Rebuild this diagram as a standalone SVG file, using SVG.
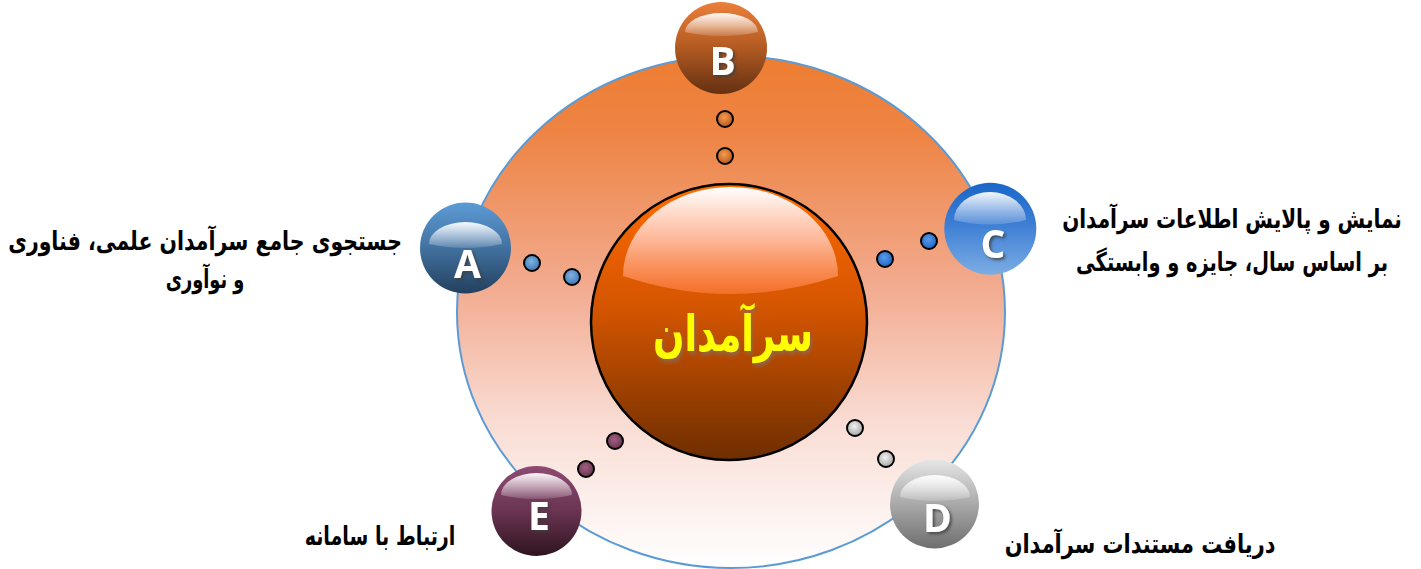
<svg xmlns="http://www.w3.org/2000/svg" width="1421" height="569" viewBox="0 0 1421 569">
<style>
.lbl{font-family:"DejaVu Sans",sans-serif;font-weight:bold;font-size:26px;fill:#000;text-anchor:middle}
.ltr{font-family:"Open Sans","DejaVu Sans",sans-serif;font-weight:700;font-size:39px;fill:#fff;text-anchor:middle}
.dot{stroke:#000;stroke-width:2}
.ball{stroke:none}
.hl{fill:url(#gHL)}
</style>
<defs>
<linearGradient id="gBg" x1="0" y1="0" x2="0" y2="1">
<stop offset="0" stop-color="#ED7D31"/>
<stop offset="0.15" stop-color="#EE8444"/>
<stop offset="0.45" stop-color="#F2AB8F"/>
<stop offset="0.72" stop-color="#F9DDD4"/>
<stop offset="1" stop-color="#FFFFFF"/>
</linearGradient>
<linearGradient id="gCenter" x1="0" y1="0" x2="0" y2="1">
<stop offset="0" stop-color="#FF6A00"/>
<stop offset="0.45" stop-color="#D45500"/>
<stop offset="1" stop-color="#6E2E00"/>
</linearGradient>
<linearGradient id="gCHL" x1="0" y1="0" x2="0" y2="1">
<stop offset="0" stop-color="#FFFFFF" stop-opacity="1"/>
<stop offset="0.5" stop-color="#FFC0A8" stop-opacity="0.9"/>
<stop offset="1" stop-color="#FF7A3A" stop-opacity="0.7"/>
</linearGradient>
<linearGradient id="gHL" x1="0" y1="0" x2="0" y2="1">
<stop offset="0" stop-color="#FFFFFF" stop-opacity="0.95"/>
<stop offset="1" stop-color="#FFFFFF" stop-opacity="0.15"/>
</linearGradient>
<linearGradient id="gA" x1="0" y1="0" x2="0" y2="1">
<stop offset="0" stop-color="#5C9BD6"/>
<stop offset="0.5" stop-color="#42719F"/>
<stop offset="1" stop-color="#23405E"/>
</linearGradient>
<linearGradient id="gB" x1="0" y1="0" x2="0" y2="1">
<stop offset="0" stop-color="#EC7F3A"/>
<stop offset="0.5" stop-color="#B25A22"/>
<stop offset="1" stop-color="#633012"/>
</linearGradient>
<linearGradient id="gC" x1="0" y1="0" x2="0" y2="1">
<stop offset="0" stop-color="#1A66C8"/>
<stop offset="0.45" stop-color="#3D7ED4"/>
<stop offset="1" stop-color="#7CADE4"/>
</linearGradient>
<linearGradient id="gD" x1="0" y1="0" x2="0" y2="1">
<stop offset="0" stop-color="#E6E6E6"/>
<stop offset="0.5" stop-color="#A9A9A9"/>
<stop offset="1" stop-color="#6E6E6E"/>
</linearGradient>
<linearGradient id="gE" x1="0" y1="0" x2="0" y2="1">
<stop offset="0" stop-color="#8E4A72"/>
<stop offset="0.5" stop-color="#6A3452"/>
<stop offset="1" stop-color="#2E141F"/>
</linearGradient>
<radialGradient id="dA" cx="0.45" cy="0.4" r="0.6">
<stop offset="0" stop-color="#7FB2E5"/><stop offset="1" stop-color="#3F77B0"/>
</radialGradient>
<radialGradient id="dB" cx="0.45" cy="0.4" r="0.6">
<stop offset="0" stop-color="#F59A50"/><stop offset="1" stop-color="#B85A1C"/>
</radialGradient>
<radialGradient id="dC" cx="0.45" cy="0.4" r="0.6">
<stop offset="0" stop-color="#5B9BE8"/><stop offset="1" stop-color="#1E64C4"/>
</radialGradient>
<radialGradient id="dD" cx="0.45" cy="0.4" r="0.6">
<stop offset="0" stop-color="#F2F2F2"/><stop offset="1" stop-color="#A6A6A6"/>
</radialGradient>
<radialGradient id="dE" cx="0.45" cy="0.4" r="0.6">
<stop offset="0" stop-color="#A0607F"/><stop offset="1" stop-color="#6A3452"/>
</radialGradient>
<filter id="shL" x="-20%" y="-20%" width="150%" height="150%">
<feDropShadow dx="2" dy="2" stdDeviation="1.5" flood-color="#3A3A3A" flood-opacity="0.8"/>
</filter>
<filter id="shC" x="-10%" y="-20%" width="130%" height="150%">
<feDropShadow dx="2" dy="3" stdDeviation="2" flood-color="#8A6A55" flood-opacity="0.9"/>
</filter>
</defs>

<g id="background">
<ellipse cx="731" cy="312" rx="274" ry="256" fill="url(#gBg)" stroke="#5B9BD5" stroke-width="2"/>
</g>

<g id="connectors">
<circle class="dot" cx="725" cy="119" r="8" fill="url(#dB)"/>
<circle class="dot" cx="725" cy="156" r="8" fill="url(#dB)"/>
<circle class="dot" cx="532" cy="263" r="8" fill="url(#dA)"/>
<circle class="dot" cx="572" cy="277" r="8" fill="url(#dA)"/>
<circle class="dot" cx="929" cy="241" r="8" fill="url(#dC)"/>
<circle class="dot" cx="885" cy="259" r="8" fill="url(#dC)"/>
<circle class="dot" cx="855" cy="428" r="8" fill="url(#dD)"/>
<circle class="dot" cx="886" cy="459" r="8" fill="url(#dD)"/>
<circle class="dot" cx="615" cy="441" r="8" fill="url(#dE)"/>
<circle class="dot" cx="586" cy="469" r="8" fill="url(#dE)"/>
</g>

<g id="center">
<circle cx="729" cy="322" r="138" fill="url(#gCenter)" stroke="#000" stroke-width="2.5"/>
<path d="M623,276 A107.5,89 0 0 1 838,276 Q730.5,312 623,276 Z" fill="url(#gCHL)"/>
<text transform="translate(733,351) scale(0.8,1)" font-family="'DejaVu Sans',sans-serif" font-weight="bold" font-size="50" fill="#FFFF00" text-anchor="middle" filter="url(#shC)" textLength="200" lengthAdjust="spacingAndGlyphs">سرآمدان</text>
</g>

<g id="node-A">
<circle class="ball" cx="465.5" cy="248" r="45.5" fill="url(#gA)"/>
<path class="hl" d="M429,244 A36.5,22 0 0 1 502,244 Q465.5,252 429,244 Z"/>
<text class="ltr" x="467.5" y="278" filter="url(#shL)">A</text>
<text class="lbl" transform="translate(205,250) scale(0.75,1)" textLength="525" lengthAdjust="spacingAndGlyphs">جستجوی جامع سرآمدان علمی، فناوری</text>
<text class="lbl" transform="translate(205,288) scale(0.75,1)" textLength="105" lengthAdjust="spacingAndGlyphs">و نوآوری</text>
</g>

<g id="node-B">
<circle class="ball" cx="721" cy="48" r="46" fill="url(#gB)"/>
<path class="hl" d="M685,32 A36.5,19 0 0 1 758,32 Q721.5,40 685,32 Z"/>
<text class="ltr" x="722.5" y="75" filter="url(#shL)">B</text>
</g>

<g id="node-C">
<circle class="ball" cx="990.3" cy="228.7" r="46" fill="url(#gC)"/>
<path class="hl" d="M954,220 A36,28 0 0 1 1026,220 Q990,229 954,220 Z"/>
<text class="ltr" x="993" y="258" filter="url(#shL)">C</text>
<text class="lbl" transform="translate(1232,228) scale(0.75,1)" textLength="453" lengthAdjust="spacingAndGlyphs">نمایش و پالایش اطلاعات سرآمدان</text>
<text class="lbl" transform="translate(1232,271) scale(0.75,1)" textLength="416" lengthAdjust="spacingAndGlyphs">بر اساس سال، جایزه و وابستگی</text>
</g>

<g id="node-D">
<circle class="ball" cx="934.5" cy="504" r="44.5" fill="url(#gD)"/>
<path class="hl" d="M900,497 A35,22 0 0 1 970,497 Q935,505 900,497 Z"/>
<text class="ltr" x="937.5" y="532" filter="url(#shL)">D</text>
<text class="lbl" transform="translate(1140,553) scale(0.75,1)" textLength="361" lengthAdjust="spacingAndGlyphs">دریافت مستندات سرآمدان</text>
</g>

<g id="node-E">
<circle class="ball" cx="536.5" cy="511" r="45" fill="url(#gE)"/>
<path class="hl" d="M501,495 A35.5,22 0 0 1 572,495 Q536.5,503 501,495 Z"/>
<text class="ltr" x="539" y="530" filter="url(#shL)">E</text>
<text class="lbl" transform="translate(380,545) scale(0.75,1)" textLength="201" lengthAdjust="spacingAndGlyphs">ارتباط با سامانه</text>
</g>
</svg>
